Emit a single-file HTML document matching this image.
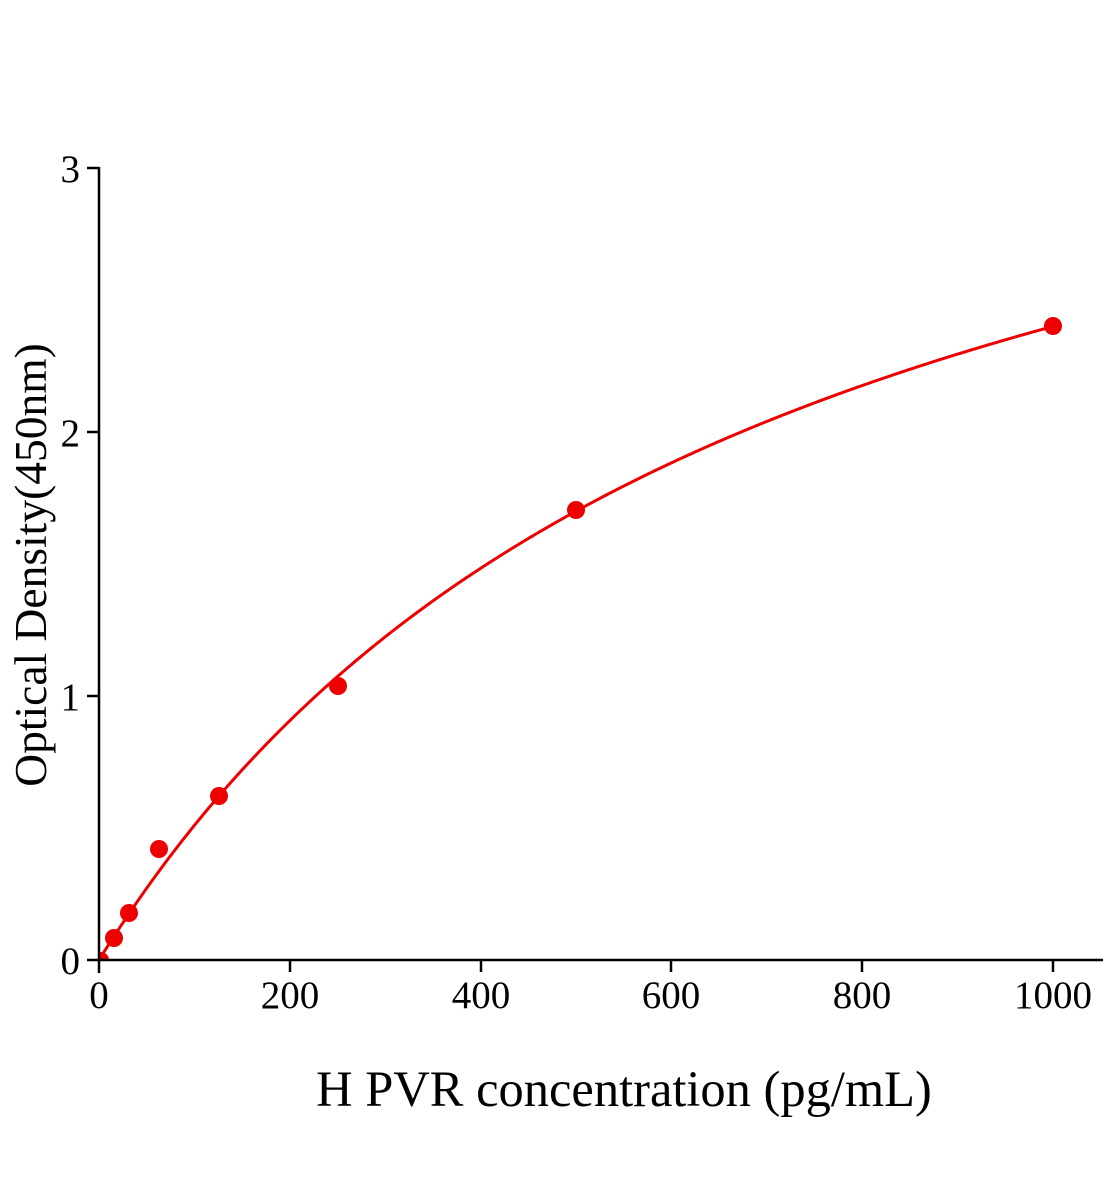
<!DOCTYPE html>
<html><head><meta charset="utf-8"><style>
html,body{margin:0;padding:0;background:#fff;}
svg{display:block;}
text{font-family:"Liberation Serif","Times New Roman",serif;fill:#000;}
</style></head><body>
<svg width="1104" height="1200" viewBox="0 0 1104 1200" xmlns="http://www.w3.org/2000/svg">
<defs><clipPath id="pa"><rect x="99" y="150" width="1010" height="810"/></clipPath></defs>
<!-- curve -->
<path id="curve" d="M99,960 L108.54,944.83 L118.08,930.08 L137.16,901.78 L156.24,874.96 L175.32,849.53 L194.4,825.36 L223.02,791.29 L251.64,759.61 L289.8,720.64 L337.5,676.55 L385.2,636.86 L432.9,600.96 L480.6,568.32 L528.3,538.52 L576,511.2 L671.4,462.87 L766.8,421.44 L862.2,385.54 L957.6,354.12 L1053,326.4" fill="none" stroke="#ee0000" stroke-width="3" stroke-linejoin="round"/>
<script>
(function(){var d="";for(var i=0;i<=400;i++){var x=i*2.5;var f=4.08*x/(700+x);var px=99+0.954*x;var py=960-264*f;d+=(i?" L":"M")+px.toFixed(2)+","+py.toFixed(2);}document.getElementById("curve").setAttribute("d",d);})();
</script>
<!-- points -->
<g fill="#ee0000">
<circle cx="101" cy="960" r="8" clip-path="url(#pa)"/>
<circle cx="114" cy="938" r="9"/>
<circle cx="129" cy="913" r="9"/>
<circle cx="159" cy="849" r="9"/>
<circle cx="219" cy="796" r="9"/>
<circle cx="338" cy="686" r="9"/>
<circle cx="576" cy="510" r="9"/>
<circle cx="1053" cy="326" r="9"/>
</g>
<!-- axes -->
<g stroke="#000" stroke-width="2.5" fill="none">
<line x1="99" y1="167" x2="99" y2="973"/>
<line x1="87" y1="960" x2="1103" y2="960"/>
<line x1="87" y1="168" x2="99" y2="168"/>
<line x1="87" y1="432" x2="99" y2="432"/>
<line x1="87" y1="696" x2="99" y2="696"/>
<line x1="290" y1="960" x2="290" y2="972"/>
<line x1="481" y1="960" x2="481" y2="972"/>
<line x1="671" y1="960" x2="671" y2="972"/>
<line x1="862" y1="960" x2="862" y2="972"/>
<line x1="1053" y1="960" x2="1053" y2="972"/>
</g>
<!-- y tick labels -->
<g font-size="39" text-anchor="end">
<text x="80" y="182">3</text>
<text x="80" y="446">2</text>
<text x="80" y="710">1</text>
<text x="80" y="974">0</text>
</g>
<!-- x tick labels -->
<g font-size="39" text-anchor="middle">
<text x="99" y="1008">0</text>
<text x="290" y="1008">200</text>
<text x="481" y="1008">400</text>
<text x="671" y="1008">600</text>
<text x="862" y="1008">800</text>
<text x="1053" y="1008">1000</text>
</g>
<!-- titles -->
<text x="624" y="1106" font-size="50.5" text-anchor="middle">H PVR concentration (pg/mL)</text>
<text transform="translate(46,565) rotate(-90)" font-size="45.5" text-anchor="middle">Optical Density(450nm)</text>
</svg>
</body></html>
